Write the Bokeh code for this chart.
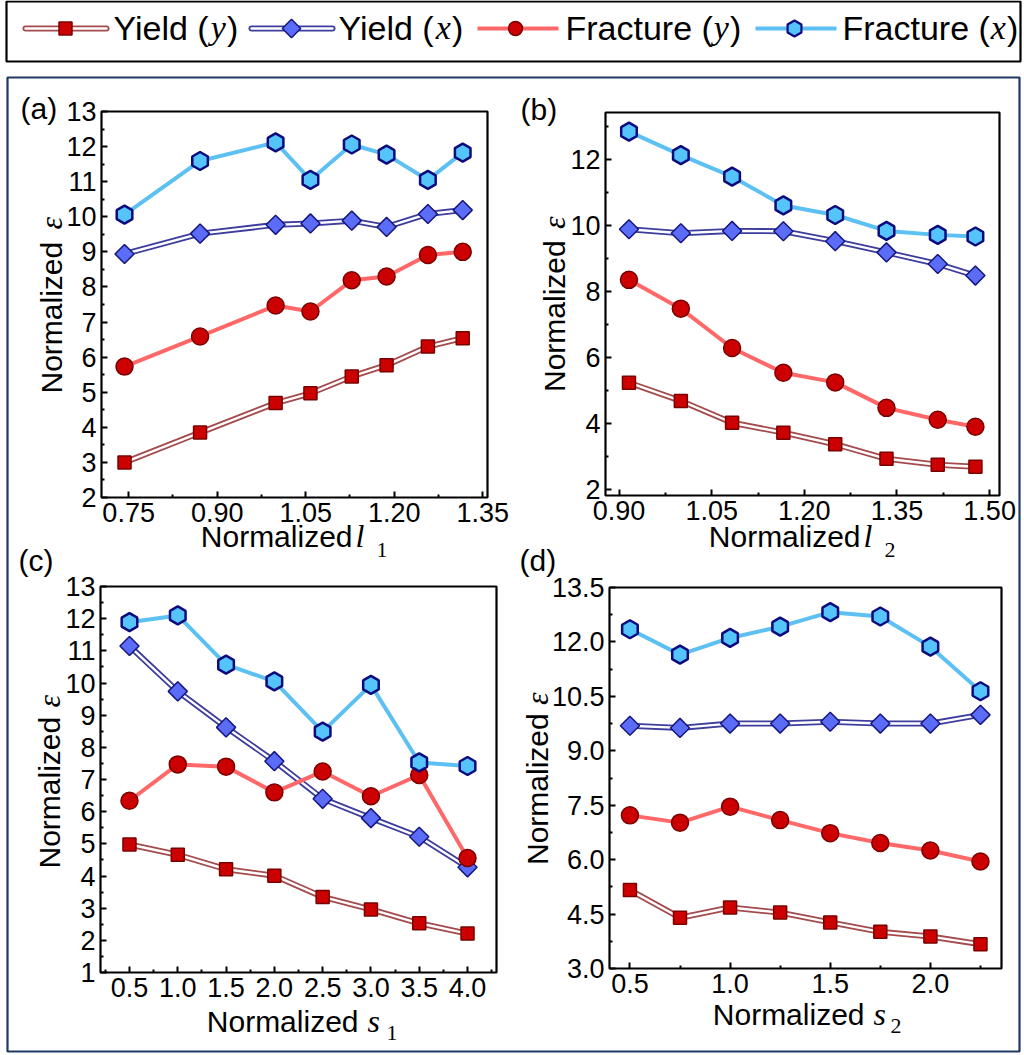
import numpy as np
from bokeh.plotting import figure
from bokeh.models import (Label, FixedTicker, PrintfTickFormatter, Range1d, BoxAnnotation,
                          LinearAxis)
from bokeh.embed import file_html
from bokeh.resources import INLINE

# ---------------- data ----------------
series_names = ["Yield", "Yield", "Fracture", "Fracture"]
series_vars = ["y", "x", "y", "x"]

a_x = [0.743, 0.871, 0.999, 1.058, 1.128, 1.187, 1.257, 1.316]
a_yield_y = [3.00, 3.85, 4.69, 4.97, 5.45, 5.77, 6.30, 6.54]
a_yield_x = [8.94, 9.52, 9.77, 9.81, 9.89, 9.71, 10.08, 10.19]
a_frac_y = [5.73, 6.59, 7.47, 7.30, 8.19, 8.30, 8.91, 9.00]
a_frac_x = [10.06, 11.59, 12.12, 11.05, 12.06, 11.77, 11.05, 11.83]

b_x = [0.916, 1.000, 1.083, 1.166, 1.250, 1.333, 1.416, 1.477]
b_yield_y = [5.24, 4.69, 4.03, 3.73, 3.38, 2.94, 2.76, 2.70]
b_yield_x = [9.88, 9.76, 9.83, 9.82, 9.52, 9.18, 8.83, 8.48]
b_frac_y = [8.35, 7.48, 6.29, 5.54, 5.25, 4.48, 4.12, 3.91]
b_frac_x = [12.83, 12.12, 11.47, 10.60, 10.31, 9.83, 9.71, 9.66]

c_x = [0.5, 1.0, 1.5, 2.0, 2.5, 3.0, 3.5, 4.0]
c_yield_y = [4.98, 4.66, 4.21, 4.01, 3.35, 2.96, 2.53, 2.21]
c_yield_x = [11.15, 9.74, 8.62, 7.57, 6.40, 5.80, 5.22, 4.27]
c_frac_y = [6.34, 7.47, 7.40, 6.60, 7.25, 6.48, 7.14, 4.56]
c_frac_x = [11.89, 12.10, 10.57, 10.05, 8.49, 9.94, 7.53, 7.42]

d_x = [0.5, 0.75, 1.0, 1.25, 1.5, 1.75, 2.0, 2.25]
d_yield_y = [5.16, 4.40, 4.68, 4.54, 4.27, 4.01, 3.88, 3.67]
d_yield_x = [9.69, 9.63, 9.75, 9.75, 9.80, 9.75, 9.75, 9.99]
d_frac_y = [7.22, 7.02, 7.46, 7.09, 6.73, 6.46, 6.25, 5.95]
d_frac_x = [12.35, 11.65, 12.11, 12.42, 12.82, 12.70, 11.87, 10.64]

# ticks
a_xticks = [0.75, 0.90, 1.05, 1.20, 1.35]
a_xminor = [0.825, 0.975, 1.125, 1.275]
a_yticks = [2, 3, 4, 5, 6, 7, 8, 9, 10, 11, 12, 13]
a_yminor = [2.5, 3.5, 4.5, 5.5, 6.5, 7.5, 8.5, 9.5, 10.5, 11.5, 12.5]

b_xticks = [0.90, 1.05, 1.20, 1.35, 1.50]
b_xminor = [0.975, 1.125, 1.275, 1.425]
b_yticks = [2, 4, 6, 8, 10, 12]
b_yminor = [3, 5, 7, 9, 11, 13]

c_xticks = [0.5, 1.0, 1.5, 2.0, 2.5, 3.0, 3.5, 4.0]
c_xminor = [0.25, 0.75, 1.25, 1.75, 2.25, 2.75, 3.25, 3.75, 4.25]
c_yticks = [1, 2, 3, 4, 5, 6, 7, 8, 9, 10, 11, 12, 13]
c_yminor = [1.5, 2.5, 3.5, 4.5, 5.5, 6.5, 7.5, 8.5, 9.5, 10.5, 11.5, 12.5]

d_xticks = [0.5, 1.0, 1.5, 2.0]
d_xminor = [0.75, 1.25, 1.75, 2.25]
d_yticks = [3.0, 4.5, 6.0, 7.5, 9.0, 10.5, 12.0, 13.5]
d_yminor = [3.75, 5.25, 6.75, 8.25, 9.75, 11.25, 12.75]

# ---------------- styles ----------------
SANS = "Liberation Sans"
SERIF = "Liberation Serif"
BROWN = "#A34A4C"
RED = "#CC0000"
DARKRED = "#7A0000"
NAVYLINE = "#3D3D9E"
BLUE = "#5B6DF7"
NAVY = "#16167E"
LIGHTRED = "#FF6868"
SKY = "#5CC0F2"
SKYFILL = "#55C4FB"
HEXEDGE = "#0B0B7E"
FRAMEBLUE = "#1F3864"
K = 0.37          # baseline correction for labels (fraction of font size)
PW, PH = 1024, 1055

p = figure(frame_width=PW, frame_height=PH, min_border=0,
           x_range=Range1d(0, PW), y_range=Range1d(0, PH),
           x_axis_type=None, y_axis_type=None,
           output_backend="svg", toolbar_location=None, tools="", title=None)
p.xgrid.visible = False
p.ygrid.visible = False
p.outline_line_color = None
p.background_fill_color = "white"
p.border_fill_color = "white"


def page_label(x, y, text, font, size, style="normal", angle=0.0, align="left"):
    """x, y: page pixel position of the text baseline start (y measured from top)."""
    dy = 0.0
    if angle == 0.0:
        dy = K * size
    else:
        x = x - K * size
    p.add_layout(Label(x=x, y=PH - y + dy, text=text, text_font=font, text_font_size=f"{size}px",
                       text_font_style=style, angle=angle, text_align=align,
                       text_baseline="alphabetic", text_color="black"))


def draw_series(x, yy, yx, fy, fx, **rn):
    p.line(x, yy, line_color=BROWN, line_width=6, **rn)
    p.line(x, yy, line_color="white", line_width=2.4, **rn)
    p.scatter(x, yy, marker="square", size=13, fill_color=RED, line_color=DARKRED, line_width=1.5, **rn)
    p.line(x, yx, line_color=NAVYLINE, line_width=6, **rn)
    p.line(x, yx, line_color="white", line_width=2.4, **rn)
    p.scatter(x, yx, marker="square", angle=np.pi / 4, size=13.5, fill_color=BLUE, line_color=NAVY, line_width=1.5, **rn)
    p.line(x, fy, line_color=LIGHTRED, line_width=4, **rn)
    p.scatter(x, fy, marker="circle", size=17, fill_color=RED, line_color=DARKRED, line_width=1.5, **rn)
    p.line(x, fx, line_color=SKY, line_width=4, **rn)
    p.scatter(x, fx, marker="hex", angle=np.pi / 6, size=18, fill_color=SKYFILL, line_color=HEXEDGE, line_width=2.5, **rn)


def style_axis(ax):
    ax.axis_line_color = None
    ax.major_tick_in = 6
    ax.major_tick_out = 0
    ax.minor_tick_in = 3
    ax.minor_tick_out = 0
    ax.major_tick_line_width = 2
    ax.minor_tick_line_width = 2
    ax.major_tick_line_color = "black"
    ax.minor_tick_line_color = "black"
    ax.major_label_text_font = SANS
    ax.major_label_text_font_size = "27px"
    ax.major_label_text_color = "black"
    ax.major_label_standoff = 5


def box(left, right, bottom, top, color, **rn):
    p.add_layout(BoxAnnotation(left=left, right=right, bottom=bottom, top=top,
                               fill_color=None, fill_alpha=0, line_color=color, line_alpha=1.0,
                               line_width=2.2, level="overlay", **rn))


def make_panel(key, cfg, x, yy, yx, fy, fx, xt, xm, yt, ym, xfmt, yfmt):
    x0, x1 = cfg["xr"]
    y0, y1 = cfg["yr"]
    L, T, Wb, Hb = cfg["box"]
    B = T + Hb
    dx = (x1 - x0) / Wb
    dy = (y1 - y0) / Hb
    xn, yn = key + "x", key + "y"
    p.extra_x_ranges[xn] = Range1d(x0 - L * dx, x0 + (PW - L) * dx)
    p.extra_y_ranges[yn] = Range1d(y0 - (PH - B) * dy, y0 + B * dy)
    rn = dict(x_range_name=xn, y_range_name=yn)

    draw_series(x, yy, yx, fy, fx, **rn)

    xa = LinearAxis(fixed_location=y0, ticker=FixedTicker(ticks=xt, minor_ticks=xm),
                    formatter=PrintfTickFormatter(format=xfmt), **rn)
    ya = LinearAxis(fixed_location=x0, ticker=FixedTicker(ticks=yt, minor_ticks=ym),
                    formatter=PrintfTickFormatter(format=yfmt), **rn)
    style_axis(xa)
    style_axis(ya)
    p.add_layout(xa, "below")
    p.add_layout(ya, "left")
    box(x0, x1, y0, y1, "black", **rn)

    cx = L + Wb / 2
    cy = T + Hb / 2
    xl = cfg["xl"]
    page_label(cx + xl[0], xl[3], "Normalized", SANS, 30, align="right")
    page_label(cx + xl[1], xl[3], cfg["var"], SERIF, 32, style="italic")
    page_label(cx + xl[2], xl[3] + xl[4], cfg["sub"], SERIF, 22)
    yl = cfg["yl"]
    page_label(L + yl[0], cy + yl[1], "Normalized", SANS, 30, angle=np.pi / 2)
    page_label(L + yl[0], cy - yl[2], "\u03b5", SERIF, 32, style="italic", angle=np.pi / 2)
    pl = cfg["pl"]
    page_label(pl[0], pl[1], cfg["tag"], SANS, 30)


# box = (left, top, width, height) in page pixels
cfg_a = dict(box=(101, 111, 386, 386), xr=(0.704, 1.358), yr=(2.0, 13.0),
             xl=(58, 61, 82, 547, 11), yl=(-39, 89, 75), pl=(20, 119), tag="(a)", var="l", sub="1")
cfg_b = dict(box=(605, 112, 394, 383), xr=(0.878, 1.516), yr=(1.83, 13.41),
             xl=(58, 61, 82, 547, 11), yl=(-40, 88, 75), pl=(520, 120), tag="(b)", var="l", sub="2")
cfg_c = dict(box=(100, 586, 396, 386), xr=(0.2, 4.3), yr=(1.0, 13.0),
             xl=(60, 69, 88, 1032, 9), yl=(-40, 89, 72), pl=(18, 571), tag="(c)", var="s", sub="1")
cfg_d = dict(box=(609, 587, 392, 381), xr=(0.398, 2.355), yr=(3.0, 13.5),
             xl=(59, 68, 85, 1025, 9), yl=(-61, 87, 73), pl=(519, 571), tag="(d)", var="s", sub="2")

make_panel("a", cfg_a, a_x, a_yield_y, a_yield_x, a_frac_y, a_frac_x, a_xticks, a_xminor, a_yticks, a_yminor, "%.2f", "%d")
make_panel("b", cfg_b, b_x, b_yield_y, b_yield_x, b_frac_y, b_frac_x, b_xticks, b_xminor, b_yticks, b_yminor, "%.2f", "%d")
make_panel("c", cfg_c, c_x, c_yield_y, c_yield_x, c_frac_y, c_frac_x, c_xticks, c_xminor, c_yticks, c_yminor, "%.1f", "%d")
make_panel("d", cfg_d, d_x, d_yield_y, d_yield_x, d_frac_y, d_frac_x, d_xticks, d_xminor, d_yticks, d_yminor, "%.1f", "%.1f")

# ---------------- frames ----------------
box(6, 1020, PH - 61, PH - 1, "black")
box(7, 1019, PH - 1051, PH - 77, FRAMEBLUE)

# ---------------- legend ----------------
AW = {' ': 278, '(': 333, ')': 333, 'Y': 667, 'i': 222, 'e': 556, 'l': 222, 'd': 556, 'F': 611,
      'r': 333, 'a': 556, 'c': 500, 't': 278, 'u': 556}


def aw(s, fs):
    return sum(AW[ch] for ch in s) * fs / 1000.0


leg_line_x0 = [25, 251, 477, 755]
leg_text_x0 = [113, 338, 565, 842]
LEG_LEN = 81
LEG_YC = PH - 28
LEG_BASE = 40
FS = 34

i = 0
xs = [leg_line_x0[i], leg_line_x0[i] + LEG_LEN]
p.line(xs, [LEG_YC, LEG_YC], line_color=BROWN, line_width=6, line_cap="round")
p.line(xs, [LEG_YC, LEG_YC], line_color="white", line_width=2.4, line_cap="round")
p.scatter([leg_line_x0[i] + 40], [LEG_YC], marker="square", size=13, fill_color=RED, line_color=DARKRED, line_width=1.5)
i = 1
xs = [leg_line_x0[i], leg_line_x0[i] + LEG_LEN]
p.line(xs, [LEG_YC, LEG_YC], line_color=NAVYLINE, line_width=6, line_cap="round")
p.line(xs, [LEG_YC, LEG_YC], line_color="white", line_width=2.4, line_cap="round")
p.scatter([leg_line_x0[i] + 40], [LEG_YC], marker="square", angle=np.pi / 4, size=13, fill_color=BLUE, line_color=NAVY, line_width=1.5)
i = 2
xs = [leg_line_x0[i], leg_line_x0[i] + LEG_LEN]
p.line(xs, [LEG_YC, LEG_YC], line_color=LIGHTRED, line_width=4)
p.scatter([leg_line_x0[i] + 38], [LEG_YC], marker="circle", size=14, fill_color=RED, line_color=DARKRED, line_width=1.5)
i = 3
xs = [leg_line_x0[i], leg_line_x0[i] + LEG_LEN]
p.line(xs, [LEG_YC, LEG_YC], line_color=SKY, line_width=4)
p.scatter([leg_line_x0[i] + 39], [LEG_YC], marker="hex", angle=np.pi / 6, size=16, fill_color=SKYFILL, line_color=HEXEDGE, line_width=2.2)

for name, var, x0 in zip(series_names, series_vars, leg_text_x0):
    first = name + " ("
    page_label(x0, LEG_BASE, first, SANS, FS)
    xv = x0 + aw(first, FS) + 1
    page_label(xv, LEG_BASE, var, SERIF, FS, style="italic")
    xc = xv + 0.444 * FS + 1
    page_label(xc, LEG_BASE, ")", SANS, FS)

open("out.html", "w").write(file_html(p, INLINE))
